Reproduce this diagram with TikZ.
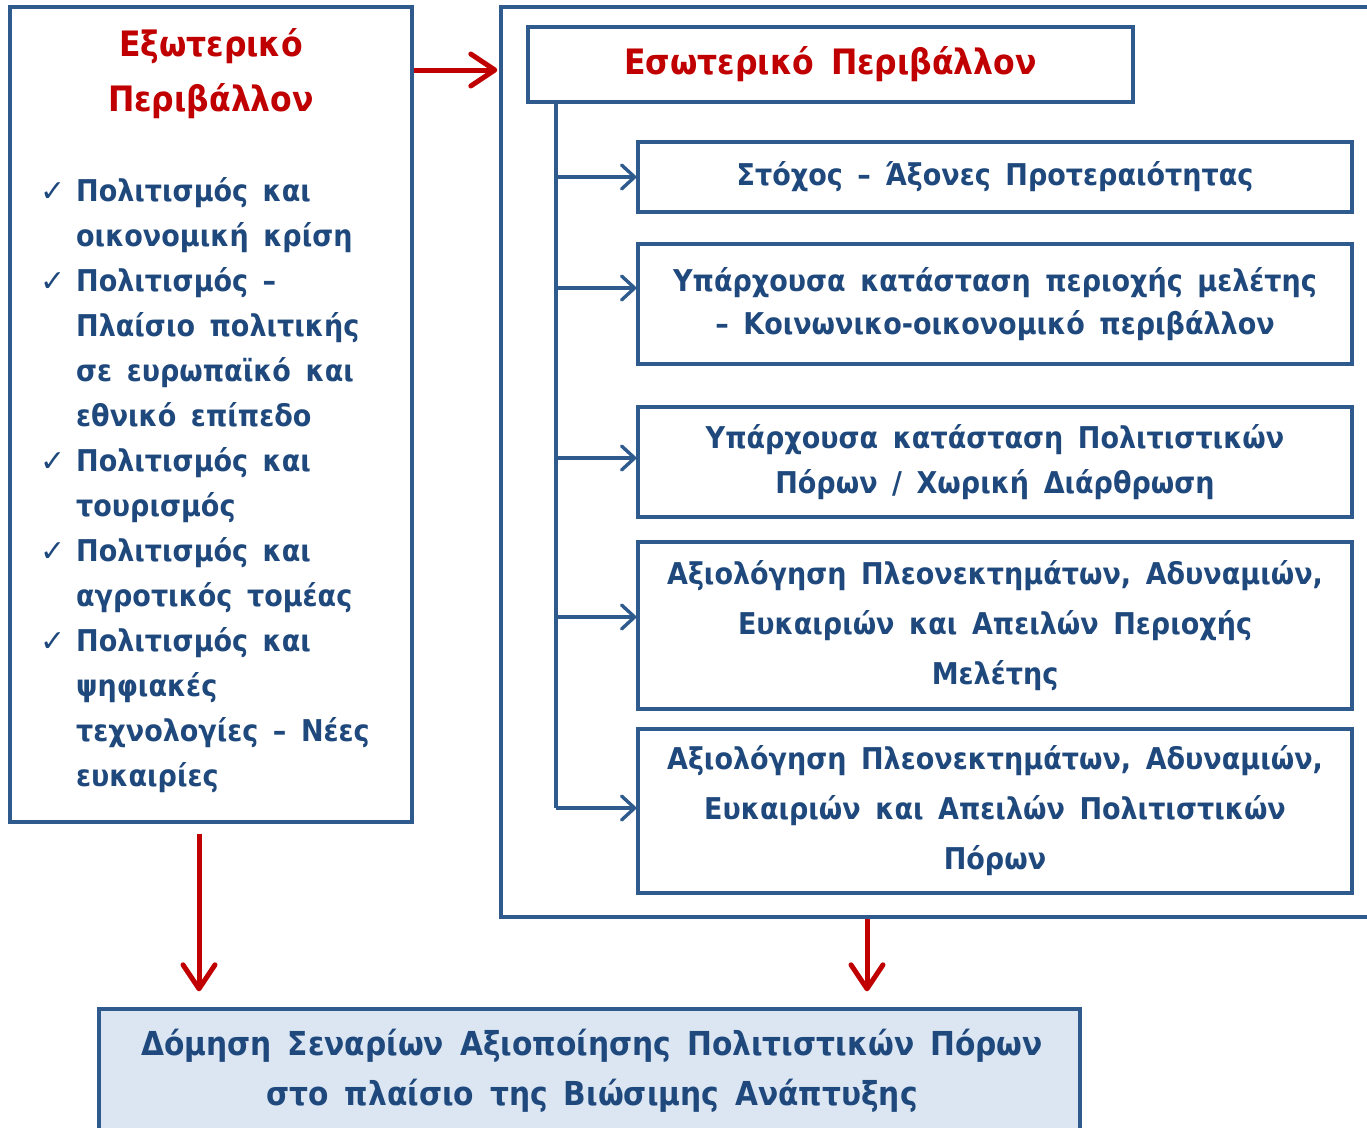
\documentclass[tikz,border=0pt]{standalone}
\usepackage{fontspec}
\setmainfont{DejaVu Sans}[FakeStretch=0.9, WordSpace=1.55]
\newfontfamily\chkfont{DejaVu Sans}
\usetikzlibrary{arrows.meta}
\definecolor{bord}{HTML}{2F5A8E}
\definecolor{txt}{HTML}{1F497D}
\definecolor{redc}{HTML}{C00000}
\definecolor{fillb}{HTML}{DCE6F2}
\newcommand\mychk{\llap{{\chkfont\mdseries\fontsize{30}{30}\selectfont\textcolor{txt}{✓}}\hspace{11pt}}}
\begin{document}
\begin{tikzpicture}[x=1pt,y=-1pt,
  box/.style={draw=bord, line width=3.4pt, inner sep=0pt},
  body/.style={text=txt, font=\bfseries\fontsize{30}{45}\selectfont, align=center},
  ttl/.style={text=redc, font=\bfseries\fontsize{35}{55}\selectfont, align=center},
  bluearr/.style={draw=bord, line width=3.4pt, -{Straight Barb[length=13pt,width=24pt,line width=3.4pt,round]}},
  redarr/.style={draw=redc, line width=5pt, -{Straight Barb[length=24pt,width=32pt,line width=5pt,round]}}]
\useasboundingbox (0,0) rectangle (1367,1127);
\fill[white] (0,0) rectangle (1367,1127);
% left box
\node[box, minimum width=402pt, minimum height=815pt] (ext) at (211,414.5) {};
\node[ttl] (exttitle) at (211,74) {Εξωτερικό\\Περιβάλλον};
\node[body, align=left, anchor=north west, inner sep=0pt] (extlist) at (76,177) {%
\mychk Πολιτισμός και\\
οικονομική κρίση\\
\mychk Πολιτισμός –\\
Πλαίσιο πολιτικής\\
σε ευρωπαϊκό και\\
εθνικό επίπεδο\\
\mychk Πολιτισμός και\\
τουρισμός\\
\mychk Πολιτισμός και\\
αγροτικός τομέας\\
\mychk Πολιτισμός και\\
ψηφιακές\\
τεχνολογίες – Νέες\\
ευκαιρίες};
% right box
\node[box, minimum width=879pt, minimum height=910pt] (int) at (940.5,462) {};
\node[box, ttl, minimum width=605pt, minimum height=75pt] (inttitle) at (830.5,64.5) {Εσωτερικό Περιβάλλον};
\node[box, body, minimum width=714pt, minimum height=70pt] (b1) at (995,177) {Στόχος – Άξονες Προτεραιότητας};
\node[box, body, minimum width=714pt, minimum height=120pt, font=\bfseries\fontsize{30}{43}\selectfont] (b2) at (995,304) {Υπάρχουσα κατάσταση περιοχής μελέτης\\– Κοινωνικο-οικονομικό περιβάλλον};
\node[box, body, minimum width=714pt, minimum height=110pt] (b3) at (995,462) {Υπάρχουσα κατάσταση Πολιτιστικών\\Πόρων / Χωρική Διάρθρωση};
\node[box, body, minimum width=714pt, minimum height=167pt, font=\bfseries\fontsize{30}{50}\selectfont] (b4) at (995,625.5) {Αξιολόγηση Πλεονεκτημάτων, Αδυναμιών,\\Ευκαιριών και Απειλών Περιοχής\\Μελέτης};
\node[box, body, minimum width=714pt, minimum height=164pt, font=\bfseries\fontsize{30}{50}\selectfont] (b5) at (995,811) {Αξιολόγηση Πλεονεκτημάτων, Αδυναμιών,\\Ευκαιριών και Απειλών Πολιτιστικών\\Πόρων};
% trunk and branches
\coordinate (tk) at (556,0);
\draw[draw=bord, line width=3.4pt] (inttitle.south -| tk) -- ([yshift=3pt]b5.west -| tk);
\draw[bluearr] (b1.west -| tk) -- (b1.west);
\draw[bluearr] ([yshift=16pt]b2.west -| tk) -- ([yshift=16pt]b2.west);
\draw[bluearr] ([yshift=4pt]b3.west -| tk) -- ([yshift=4pt]b3.west);
\draw[bluearr] ([yshift=8.5pt]b4.west -| tk) -- ([yshift=8.5pt]b4.west);
\draw[bluearr] ([yshift=3pt]b5.west -| tk) -- ([yshift=3pt]b5.west);
% bottom box
\node[box, fill=fillb, minimum width=981pt, minimum height=131pt] (bot) at (589.5,1074.5) {};
\node[body, font=\bfseries\fontsize{33}{50}\selectfont, inner sep=0pt] (bottext) at (592,1071) {Δόμηση Σεναρίων Αξιοποίησης Πολιτιστικών Πόρων\\στο πλαίσιο της Βιώσιμης Ανάπτυξης};
% red arrows
\coordinate (ra) at (0,70);
\draw[redarr, shorten >=2pt] (ext.east |- ra) -- (int.west |- ra);
\coordinate (la) at (199,0);
\coordinate (ma) at (867,0);
\draw[redarr, shorten <=10pt, shorten >=16pt] (ext.south -| la) -- (bot.north -| la);
\draw[redarr, shorten >=16pt] (int.south -| ma) -- (bot.north -| ma);
\end{tikzpicture}
\end{document}
